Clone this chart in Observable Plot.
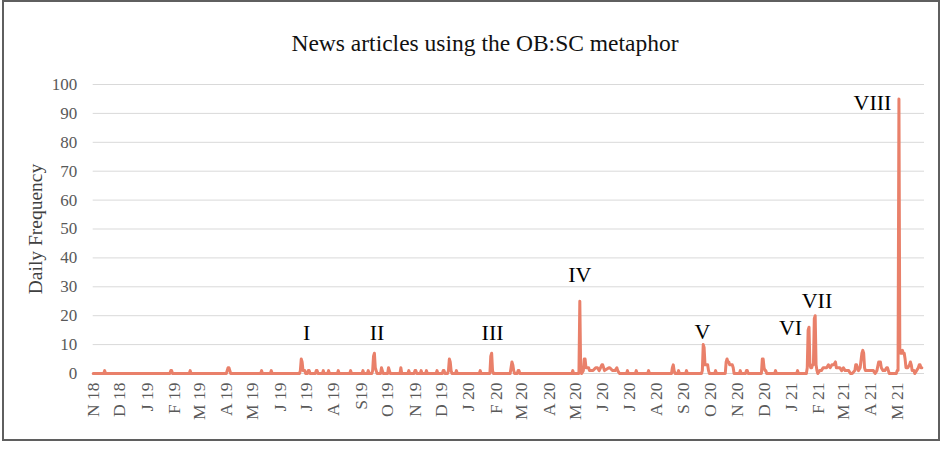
<!DOCTYPE html>
<html><head><meta charset="utf-8">
<script src="https://cdn.jsdelivr.net/npm/d3@7"></script>
<script src="https://cdn.jsdelivr.net/npm/@observablehq/plot@0.6"></script>
<style>
body{margin:0;background:#fff;}
#wrap{position:relative;width:942px;height:449px;overflow:hidden;font-family:"Liberation Serif",serif;background:#fff;}
#wrap svg{position:absolute;left:0;top:0;}
#frame{position:absolute;left:2px;top:0px;width:938px;height:441px;box-sizing:border-box;border:2px solid #5f5f5f;pointer-events:none;z-index:2;}
#title{position:absolute;left:14px;width:942px;top:31px;text-align:center;font-size:23.5px;line-height:24px;color:#111;z-index:3;}
</style></head><body>
<div id="wrap"><div id="title">News articles using the OB:SC metaphor</div><div id="frame"></div></div>
<script>
const dates = [
"2018-11-01","2018-11-13","2018-11-14","2018-11-15",
"2019-01-27","2019-01-28","2019-01-29","2019-01-30",
"2019-02-18","2019-02-19","2019-02-20",
"2019-04-01","2019-04-02","2019-04-03","2019-04-04","2019-04-05","2019-04-06",
"2019-05-10","2019-05-11","2019-05-12","2019-05-21","2019-05-22","2019-05-23",
"2019-06-23","2019-06-24","2019-06-25","2019-06-26","2019-06-27","2019-06-28","2019-06-29","2019-06-30",
"2019-07-02","2019-07-03","2019-07-04","2019-07-05","2019-07-11","2019-07-12","2019-07-13","2019-07-14",
"2019-07-19","2019-07-20","2019-07-21","2019-07-25","2019-07-26","2019-07-27",
"2019-08-05","2019-08-06","2019-08-07","2019-08-19","2019-08-20","2019-08-21",
"2019-09-02","2019-09-03","2019-09-04","2019-09-08","2019-09-09","2019-09-10",
"2019-09-13","2019-09-14","2019-09-15","2019-09-16","2019-09-17","2019-09-18","2019-09-19",
"2019-09-23","2019-09-24","2019-09-25","2019-09-26",
"2019-10-01","2019-10-02","2019-10-03","2019-10-04","2019-10-15","2019-10-16","2019-10-17",
"2019-10-24","2019-10-25","2019-10-26","2019-10-31","2019-11-01","2019-11-02","2019-11-03",
"2019-11-07","2019-11-08","2019-11-09","2019-11-13","2019-11-14","2019-11-15",
"2019-11-25","2019-11-26","2019-11-27","2019-12-02","2019-12-03","2019-12-04","2019-12-05",
"2019-12-08","2019-12-09","2019-12-10","2019-12-11","2019-12-12","2019-12-13",
"2019-12-17","2019-12-18","2019-12-19",
"2020-01-13","2020-01-14","2020-01-15",
"2020-01-25","2020-01-26","2020-01-27","2020-01-28","2020-01-29",
"2020-02-17","2020-02-18","2020-02-19","2020-02-20","2020-02-21","2020-02-22",
"2020-02-25","2020-02-26","2020-02-27","2020-02-28",
"2020-04-27","2020-04-28","2020-04-29",
"2020-05-05","2020-05-06","2020-05-07","2020-05-08","2020-05-10","2020-05-11","2020-05-12","2020-05-13",
"2020-05-15","2020-05-16","2020-05-17","2020-05-19","2020-05-21","2020-05-24","2020-05-26","2020-05-28",
"2020-05-31","2020-06-01","2020-06-03","2020-06-08","2020-06-09","2020-06-12","2020-06-15","2020-06-17",
"2020-06-18","2020-06-20","2020-06-28","2020-06-29","2020-06-30",
"2020-07-08","2020-07-09","2020-07-10","2020-07-22","2020-07-23","2020-07-24",
"2020-08-18","2020-08-19","2020-08-20","2020-08-21","2020-08-22","2020-08-25","2020-08-26","2020-08-27",
"2020-09-03","2020-09-04","2020-09-05",
"2020-09-21","2020-09-22","2020-09-23","2020-09-24","2020-09-25","2020-09-26","2020-09-27","2020-09-28","2020-09-29","2020-09-30",
"2020-10-06","2020-10-07","2020-10-08",
"2020-10-18","2020-10-19","2020-10-20","2020-10-21","2020-10-22","2020-10-23","2020-10-24","2020-10-25","2020-10-26","2020-10-27","2020-10-28",
"2020-11-03","2020-11-04","2020-11-05","2020-11-10","2020-11-11","2020-11-12","2020-11-13",
"2020-11-28","2020-11-29","2020-11-30","2020-12-01","2020-12-02","2020-12-03","2020-12-04",
"2020-12-13","2020-12-14","2020-12-15",
"2021-01-07","2021-01-08","2021-01-09",
"2021-01-18","2021-01-19","2021-01-20","2021-01-21","2021-01-22","2021-01-23","2021-01-24","2021-01-25",
"2021-01-26","2021-01-27","2021-01-28","2021-01-29","2021-01-30","2021-01-31",
"2021-02-02","2021-02-04","2021-02-06","2021-02-08","2021-02-10","2021-02-12","2021-02-14","2021-02-16",
"2021-02-18","2021-02-20","2021-02-21","2021-02-23","2021-02-25","2021-02-27",
"2021-03-01","2021-03-03","2021-03-05","2021-03-07","2021-03-09","2021-03-11",
"2021-03-14","2021-03-15","2021-03-16","2021-03-17","2021-03-18","2021-03-20","2021-03-22","2021-03-23",
"2021-03-24","2021-03-25","2021-03-26","2021-03-29","2021-03-31","2021-04-02","2021-04-04","2021-04-06",
"2021-04-08","2021-04-10","2021-04-11","2021-04-12","2021-04-13","2021-04-15","2021-04-17","2021-04-19",
"2021-04-20","2021-04-21","2021-04-22","2021-04-30",
"2021-05-01","2021-05-02","2021-05-03","2021-05-04","2021-05-05","2021-05-06","2021-05-07","2021-05-08",
"2021-05-09","2021-05-10","2021-05-11","2021-05-12","2021-05-13","2021-05-15","2021-05-16","2021-05-17",
"2021-05-18","2021-05-20","2021-05-21","2021-05-23","2021-05-25","2021-05-26","2021-05-27","2021-05-28","2021-05-29"
];
const counts = [
0,0,1,0,
0,1,1,0,
0,1,0,
0,1,2,2,1,0,
0,1,0,0,1,0,
0,1,5,4,1,1,1,0,
0,1,1,0,0,1,1,0,
0,1,0,0,1,0,
0,1,0,0,1,0,
0,1,0,0,1,0,
0,1,6,7,2,1,0,
0,2,1,0,
0,2,1,0,0,2,0,
0,1,0,0,1,1,0,
0,1,0,0,1,0,
0,1,0,0,1,1,0,
0,1,5,4,1,0,
0,1,0,
0,1,0,
0,6,7,1,0,
0,2,4,3,1,0,
0,1,1,0,
0,1,0,
0,25,1,0,1,5,5,2,
2,2,1,1,1,2,2,1,
3,3,1,2,2,1,1,2,
1,0,0,1,0,
0,1,0,0,1,0,
0,2,3,1,0,0,1,0,
0,1,0,
0,1,10,9,3,3,3,3,1,0,
0,1,0,
0,4,5,4,4,3,3,3,3,2,0,
0,1,0,0,1,1,0,
0,5,5,2,1,1,0,
0,1,0,
0,1,0,
0,2,15,16,3,2,2,3,
3,19,20,3,1,0,
1,1,2,2,2,3,2,3,
3,4,2,2,2,1,
2,1,1,1,0,0,
1,3,3,2,1,2,7,8,
7,2,1,1,1,1,1,0,
1,4,4,4,2,1,1,2,
2,1,0,0,
1,1,95,8,7,7,8,7,
7,5,2,2,2,3,4,3,
1,1,0,1,2,3,3,2,2
];
const tickDates = ["2018-11-01","2018-12-01","2019-01-01","2019-02-01","2019-03-01","2019-04-01","2019-05-01","2019-06-01","2019-07-01","2019-08-01","2019-09-01","2019-10-01","2019-11-01","2019-12-01","2020-01-01","2020-02-01","2020-03-01","2020-04-01","2020-05-01","2020-06-01","2020-07-01","2020-08-01","2020-09-01","2020-10-01","2020-11-01","2020-12-01","2021-01-01","2021-02-01","2021-03-01","2021-04-01","2021-05-01"];
const tickLabels = ["N 18","D 18","J 19","F 19","M 19","A 19","M 19","J 19","J 19","A 19","S19","O 19","N 19","D 19","J 20","F 20","M 20","A 20","M 20","J 20","J 20","A 20","S 20","O 20","N 20","D 20","J 21","F 21","M 21","A 21","M 21"];
const yTicks = [0,10,20,30,40,50,60,70,80,90,100];
const annoLabels = ["I","II","III","IV","V","VI","VII","VIII"];
const annoDates = ["2019-07-01","2019-09-19","2020-01-28","2020-05-06","2020-09-22","2020-12-31","2021-01-30","2021-04-03"];
const annoY = [14,14,14,34,14.5,15.6,25,93.7];

const data = dates.map((d, i) => ({date: new Date(d), value: counts[i]}));
const annos = annoLabels.map((t, i) => ({label: t, date: new Date(annoDates[i]), y: annoY[i]}));
const labelMap = new Map(tickDates.map((d, i) => [+new Date(d), tickLabels[i]]));

const chart = Plot.plot({
  width: 942, height: 449,
  marginLeft: 92.7, marginRight: 18, marginTop: 84, marginBottom: 76,
  style: {fontFamily: "'Liberation Serif', serif", background: "transparent", overflow: "visible"},
  x: {type: "utc", domain: [new Date("2018-11-01"), new Date("2021-06-01")]},
  y: {domain: [0, 100]},
  marks: [
    Plot.gridY(yTicks, {stroke: "#d9d9d9", strokeOpacity: 1, strokeWidth: 1}),
    Plot.axisY(yTicks, {tickSize: 0, tickPadding: 16, fontSize: 17, fill: "#595959", label: null}),
    Plot.axisX(tickDates.map(d => new Date(d)), {tickSize: 0, tickPadding: 9, tickRotate: -90, fontSize: 17.5, fill: "#595959", label: null, tickFormat: d => labelMap.get(+d)}),
    Plot.lineY(data, {x: "date", y: "value", stroke: "#E9806A", strokeWidth: 3, strokeLinejoin: "round", strokeLinecap: "round"}),
    Plot.text(annos, {x: "date", y: "y", text: "label", fontSize: 22, fill: "#000"}),
    Plot.text(["Daily Frequency"], {text: d => d, frameAnchor: "left", textAnchor: "middle", dx: -57.7, rotate: -90, fontSize: 19.5, fill: "#404040"})
  ]
});
document.getElementById("wrap").appendChild(chart);
</script>
</body></html>
